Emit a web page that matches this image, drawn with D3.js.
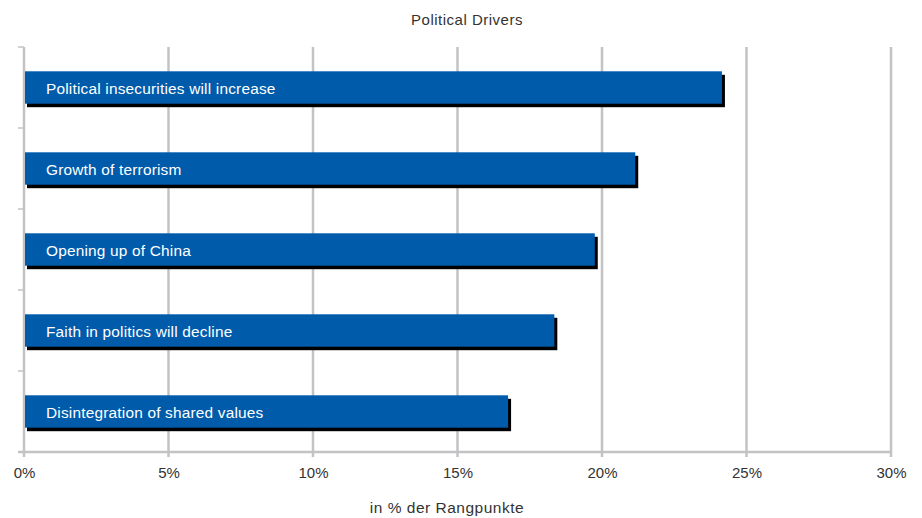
<!DOCTYPE html>
<html>
<head>
<meta charset="utf-8">
<script src="https://cdn.jsdelivr.net/npm/d3@7"></script>
<style>
  html, body { margin: 0; padding: 0; background: #fff; }
  svg { display: block; font-family: "Liberation Sans", Arial, sans-serif; }
</style>
</head>
<body>
<svg id="chart" width="922" height="518"></svg>
<script>
// Political drivers, share of ranking points (%)
const categories = [
  "Political insecurities will increase",
  "Growth of terrorism",
  "Opening up of China",
  "Faith in politics will decline",
  "Disintegration of shared values"
];
const values = [24.15, 21.15, 19.75, 18.35, 16.75];
const tickValues = [0, 5, 10, 15, 20, 25, 30];
const titleText = "Political Drivers";
const axisTitle = "in % der Rangpunkte";

const svg = d3.select("#chart");
const margin = { left: 24, right: 31, top: 47, bottom: 66 };
const W = 922, H = 518;
const x = d3.scaleLinear().domain([0, 30]).range([margin.left, W - margin.right]);
const y = d3.scaleBand().domain(categories).range([margin.top, H - margin.bottom]).paddingInner(0.6).paddingOuter(0.3);

const gridColor = "#c3c3c6";
const textColor = "#333";

// vertical gridlines
svg.append("g").selectAll("line").data(tickValues.slice(1)).join("line")
  .attr("x1", d => x(d)).attr("x2", d => x(d))
  .attr("y1", margin.top).attr("y2", H - margin.bottom + 5)
  .attr("stroke", gridColor).attr("stroke-width", 2.5);

// left axis with category ticks
const yEdges = [margin.top].concat(categories.map((c, i) => margin.top + (i + 1) * (H - margin.bottom - margin.top) / categories.length));
svg.append("line")
  .attr("x1", x(0)).attr("x2", x(0))
  .attr("y1", margin.top).attr("y2", H - margin.bottom + 5)
  .attr("stroke", gridColor).attr("stroke-width", 2.5);
svg.append("g").selectAll("line").data(yEdges).join("line")
  .attr("x1", x(0) - 6).attr("x2", x(0))
  .attr("y1", d => d).attr("y2", d => d)
  .attr("stroke", gridColor).attr("stroke-width", 1.5);

// bottom axis line
svg.append("line")
  .attr("x1", x(0) - 6).attr("x2", x(30))
  .attr("y1", H - margin.bottom).attr("y2", H - margin.bottom)
  .attr("stroke", gridColor).attr("stroke-width", 2.5);

// tick labels
const xAxis = d3.axisBottom(x).tickValues(tickValues).tickFormat(d => d + "%").tickSize(0).tickPadding(15);
const gx = svg.append("g").attr("transform", `translate(0,${H - margin.bottom})`).call(xAxis);
gx.select(".domain").remove();
gx.selectAll("text").attr("font-size", 15).attr("fill", textColor).attr("font-family", "'Liberation Sans', Arial, sans-serif");

// bar shadows
svg.append("g").selectAll("rect").data(values).join("rect")
  .attr("x", x(0) + 3)
  .attr("y", (d, i) => y(categories[i]) + 3.5)
  .attr("width", d => x(d) - x(0))
  .attr("height", y.bandwidth())
  .attr("fill", "#000");

// bars
svg.append("g").selectAll("rect").data(values).join("rect")
  .attr("x", x(0) + 1)
  .attr("y", (d, i) => y(categories[i]))
  .attr("width", d => x(d) - x(0) - 1)
  .attr("height", y.bandwidth())
  .attr("fill", "#005cab");

// labels inside bars
svg.append("g").selectAll("text").data(categories).join("text")
  .attr("x", x(0) + 22)
  .attr("y", d => y(d) + y.bandwidth() / 2 + 1)
  .attr("dy", "0.36em")
  .attr("fill", "#fff")
  .attr("font-size", 15.4)
  .attr("letter-spacing", 0.2)
  .text(d => d);

// title
svg.append("text")
  .attr("x", 467).attr("y", 25)
  .attr("text-anchor", "middle")
  .attr("font-size", 15).attr("letter-spacing", 0.5).attr("fill", textColor)
  .text(titleText);

// axis title
svg.append("text")
  .attr("x", 447).attr("y", 513)
  .attr("text-anchor", "middle")
  .attr("font-size", 15.5).attr("letter-spacing", 0.5).attr("fill", textColor)
  .text(axisTitle);
</script>
</body>
</html>
